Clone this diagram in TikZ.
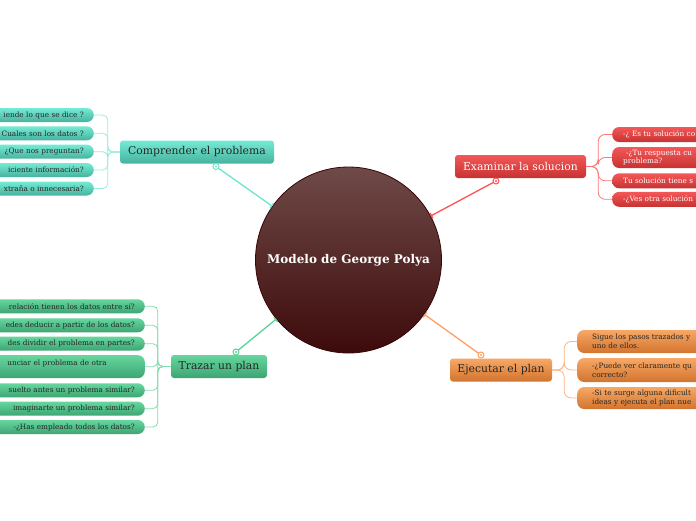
\documentclass[tikz,border=0pt]{standalone}
\usepackage{fontspec}
\setmainfont{DejaVu Serif}
\usetikzlibrary{arrows.meta}
\definecolor{polyaTop}{HTML}{6F4A48}
\definecolor{polyaBot}{HTML}{3D0A0A}
\definecolor{polyaEdge}{HTML}{360707}
\definecolor{tealTop}{HTML}{74EBD5}
\definecolor{tealBot}{HTML}{47B29E}
\definecolor{tealLine}{HTML}{6EE6CF}
\definecolor{greenTop}{HTML}{66D69E}
\definecolor{greenBot}{HTML}{3DA573}
\definecolor{greenLine}{HTML}{5CD298}
\definecolor{redTop}{HTML}{F45858}
\definecolor{redBot}{HTML}{C83232}
\definecolor{redLine}{HTML}{FF5252}
\definecolor{orangeTop}{HTML}{F8A866}
\definecolor{orangeBot}{HTML}{D2742E}
\definecolor{orangeLine}{HTML}{FFA062}
\begin{document}
\begin{tikzpicture}[x=1pt,y=-1pt,
    topic/.style={rounded corners=3pt, minimum height=23pt, inner xsep=5pt,
        font=\fontsize{10.8}{12}\selectfont, text=black!85},
    subL/.style={rounded corners=7pt, anchor=east, text width=170pt, align=right,
        inner xsep=10pt, inner ysep=1pt, minimum height=14pt,
        font=\fontsize{7.3}{8.6}\selectfont, text=black!85},
    subR/.style={rounded corners=7pt, anchor=west, text width=170pt, align=left,
        inner xsep=11pt, inner ysep=1pt, minimum height=15pt,
        font=\fontsize{7.3}{8.6}\selectfont},
    link/.style={line width=1.3pt, -{Bar[width=6pt,line width=1.3pt]}},
    joint/.style={fill=white, line width=1pt},
    bracketline/.style={line width=0.8pt, rounded corners=5pt},
]
\useasboundingbox[fill=white] (0,0) rectangle (696,520);

% centre
\node[circle, minimum size=186pt, draw=polyaEdge, line width=0.8pt,
    top color=polyaTop, bottom color=polyaBot, text=white,
    font=\bfseries\fontsize{12}{14}\selectfont] (polya) at (348.5,260) {Modelo de George Polya};

% main topics
\node[topic, top color=tealTop, bottom color=tealBot, minimum width=154pt] (comprender) at (197,152) {Comprender el problema};
\node[topic, top color=greenTop, bottom color=greenBot, minimum width=96pt] (trazar) at (219,366.5) {Trazar un plan};
\node[topic, top color=redTop, bottom color=redBot, minimum width=131pt, text=white] (examinar) at (520.5,166.5) {Examinar la solucion};
\node[topic, top color=orangeTop, bottom color=orangeBot, minimum width=102pt] (ejecutar) at (501,370) {Ejecutar el plan};

\coordinate (compJ) at (216,166.5);
\coordinate (trazJ) at (236,352);
\coordinate (examJ) at (496,181);
\coordinate (ejecJ) at (481,355);

\draw[link, tealLine] (compJ) -- (polya);
\draw[link, greenLine] (trazJ) -- (polya);
\draw[link, redLine] (examJ) -- (polya);
\draw[link, orangeLine] (ejecJ) -- (polya);
\draw[joint, draw=tealLine] (compJ) circle[radius=3pt];
\fill[tealLine] (compJ) circle[radius=1.2pt];
\draw[joint, draw=greenLine] (trazJ) circle[radius=3pt];
\fill[greenLine] (trazJ) circle[radius=1.2pt];
\draw[joint, draw=redLine] (examJ) circle[radius=3pt];
\fill[redLine] (examJ) circle[radius=1.2pt];
\draw[joint, draw=orangeLine] (ejecJ) circle[radius=3pt];
\fill[orangeLine] (ejecJ) circle[radius=1.2pt];

% comprender el problema
\node[subL, top color=tealTop, bottom color=tealBot] (comp1) at (94,115) {iende lo que se dice ?};
\node[subL, top color=tealTop, bottom color=tealBot] (comp2) at (94,133.3) {Cuales son los datos ?};
\node[subL, top color=tealTop, bottom color=tealBot] (comp3) at (94,151.7) {¿Que nos preguntan?};
\node[subL, top color=tealTop, bottom color=tealBot] (comp4) at (94,170) {iciente información?};
\node[subL, top color=tealTop, bottom color=tealBot] (comp5) at (94,188.5) {xtraña o innecesaria?};
\foreach \n in {comp1,comp2,comp3,comp4,comp5}
    \draw[bracketline, tealLine!70] (comprender.west) -- ++(-12,0) |- (\n.east);

% trazar un plan
\node[subL, top color=greenTop, bottom color=greenBot] (plan1) at (145,306.3) {relación tienen los datos entre sí?};
\node[subL, top color=greenTop, bottom color=greenBot] (plan2) at (145,325.3) {edes deducir a partir de los datos?};
\node[subL, top color=greenTop, bottom color=greenBot] (plan3) at (145,343.7) {des dividir el problema en partes?};
\node[subL, top color=greenTop, bottom color=greenBot, minimum height=23pt] (plan4) at (145,366.7) {\mbox{unciar el problema de otra\hspace{28pt}}\\\mbox{}};
\node[subL, top color=greenTop, bottom color=greenBot] (plan5) at (145,390.3) {suelto antes un problema similar?};
\node[subL, top color=greenTop, bottom color=greenBot] (plan6) at (145,408.7) {imaginarte un problema similar?};
\node[subL, top color=greenTop, bottom color=greenBot] (plan7) at (145,427) {-¿Has empleado todos los datos?};
\foreach \n in {plan1,plan2,plan3,plan4,plan5,plan6,plan7}
    \draw[bracketline, greenLine!75] (trazar.west) -- ++(-13,0) |- (\n.east);

% examinar la solucion
\node[subR, top color=redTop, bottom color=redBot, text=white] (exam1) at (612,134.5) {-¿ Es tu solución co};
\node[subR, top color=redTop, bottom color=redBot, text=white, minimum height=21pt] (exam2) at (612,157.5) {\hspace*{3pt}-¿Tu respuesta cu\\problema?};
\node[subR, top color=redTop, bottom color=redBot, text=white] (exam3) at (612,180.8) {Tu solución tiene s};
\node[subR, top color=redTop, bottom color=redBot, text=white] (exam4) at (612,199.3) {-¿Ves otra solución};
\foreach \n in {exam1,exam2,exam3,exam4}
    \draw[bracketline, redLine!80, rounded corners=7pt] (examinar.east) -- ++(12,0) |- (\n.west);

% ejecutar el plan
\node[subR, top color=orangeTop, bottom color=orangeBot, text=black!85, inner xsep=15pt, minimum height=23pt] (ejec1) at (577,341.5) {Sigue los pasos trazados y\\uno de ellos.};
\node[subR, top color=orangeTop, bottom color=orangeBot, text=black!85, inner xsep=15pt, minimum height=24pt] (ejec2) at (577,370) {-¿Puede ver claramente qu\\correcto?};
\node[subR, top color=orangeTop, bottom color=orangeBot, text=black!85, inner xsep=15pt, minimum height=22pt] (ejec3) at (577,398) {-Si te surge alguna dificult\\ideas y ejecuta el plan nue};
\foreach \n in {ejec1,ejec2,ejec3}
    \draw[bracketline, orangeLine!80, rounded corners=7pt] (ejecutar.east) -- ++(12,0) |- (\n.west);
\end{tikzpicture}
\end{document}
